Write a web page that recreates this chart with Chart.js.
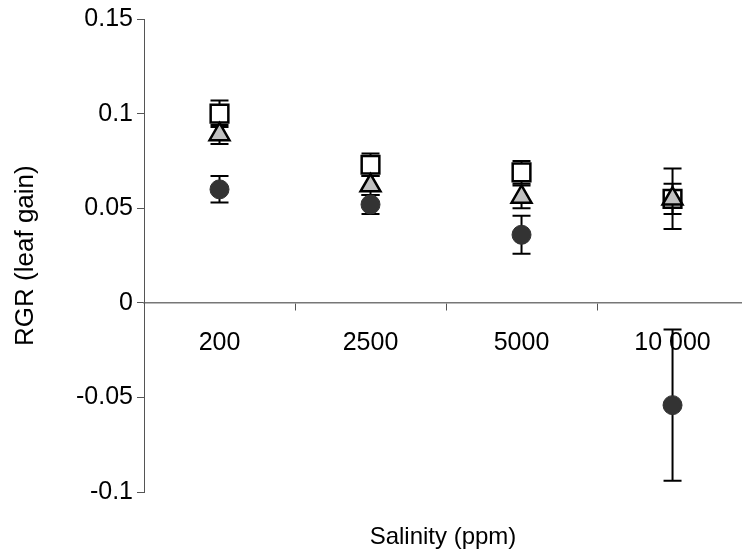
<!DOCTYPE html>
<html>
<head>
<meta charset="utf-8">
<script src="https://cdn.jsdelivr.net/npm/chart.js@4.4.1/dist/chart.umd.min.js"></script>
<style>
  html, body { margin: 0; padding: 0; background: #fff; }
  #wrap { width: 742px; height: 556px; }
</style>
</head>
<body>
<div id="wrap"><canvas id="chart" width="742" height="556"></canvas></div>
<script>
// salinity levels (x categories)
const categories = ['200', '2500', '5000', '10 000'];

// open squares
const squareMean = [0.100, 0.073, 0.069, 0.055];
const squareErr = [0.007, 0.006, 0.006, 0.016];

// grey triangles
const triangleMean = [0.089, 0.062, 0.056, 0.055];
const triangleErr = [0.005, 0.005, 0.006, 0.008];

// dark circles
const circleMean = [0.060, 0.052, 0.036, -0.054];
const circleErr = [0.007, 0.005, 0.010, 0.040];

// y axis ticks
const yTickValues = [-0.1, -0.05, 0, 0.05, 0.1, 0.15];
const yTickLabels = ['-0.1', '-0.05', '0', '0.05', '0.1', '0.15'];

// x axis: label at each category, tick mark between categories
const xLabelTicks = [1, 2, 3, 4];
const xDividerTicks = [1.5, 2.5, 3.5];

const FONT = "'Liberation Sans', Arial, sans-serif";
Chart.defaults.font.family = FONT;
Chart.defaults.color = '#000';

function toPoints(means) {
  return means.map((v, i) => ({ x: i + 1, y: v }));
}

// error bars drawn just before each dataset's markers
const errorBars = {
  id: 'errorBars',
  beforeDatasetDraw(chart, args) {
    const ds = chart.data.datasets[args.index];
    if (!ds.errors) return;
    const { ctx } = chart;
    const xs = chart.scales.x;
    const ys = chart.scales.y;
    ctx.save();
    ctx.strokeStyle = '#000';
    ctx.lineWidth = 2;
    ds.data.forEach((p, i) => {
      const e = ds.errors[i];
      const px = xs.getPixelForValue(p.x);
      const top = ys.getPixelForValue(p.y + e);
      const bot = ys.getPixelForValue(p.y - e);
      ctx.beginPath();
      ctx.moveTo(px, top);
      ctx.lineTo(px, bot);
      ctx.moveTo(px - 9, top);
      ctx.lineTo(px + 9, top);
      ctx.moveTo(px - 9, bot);
      ctx.lineTo(px + 9, bot);
      ctx.stroke();
    });
    ctx.restore();
  }
};

new Chart(document.getElementById('chart'), {
  type: 'scatter',
  data: {
    datasets: [
      {
        label: 'circle',
        data: toPoints(circleMean),
        errors: circleErr,
        pointStyle: 'circle',
        pointRadius: 9.5,
        backgroundColor: '#333333',
        borderColor: '#333333',
        borderWidth: 1
      },
      {
        label: 'triangle',
        data: toPoints(triangleMean),
        errors: triangleErr,
        pointStyle: 'triangle',
        pointRadius: 11.5,
        backgroundColor: '#c0c0c0',
        borderColor: '#000',
        borderWidth: 2.5
      },
      {
        label: 'square',
        data: toPoints(squareMean),
        errors: squareErr,
        pointStyle: 'rect',
        pointRadius: 12.5,
        backgroundColor: '#fff',
        borderColor: '#000',
        borderWidth: 2.5
      }
    ]
  },
  options: {
    responsive: false,
    animation: false,
    layout: { autoPadding: false, padding: { top: 8, left: 0, right: 0, bottom: 0 } },
    plugins: {
      legend: { display: false },
      tooltip: { enabled: false },
      title: {
        display: true,
        position: 'bottom',
        fullSize: false,
        text: 'Salinity (ppm)',
        color: '#000',
        font: { size: 24, weight: 'normal', family: FONT },
        padding: { top: 31, bottom: 4 }
      }
    },
    scales: {
      x: {
        type: 'linear',
        position: { y: 0 },
        min: 0.5,
        max: 4.46,
        afterFit: (scale) => {
          scale.height = 0;
          scale.paddingLeft = 0;
          scale.paddingRight = 0;
        },
        afterBuildTicks: (scale) => {
          scale.ticks = xLabelTicks.concat(xDividerTicks).sort((a, b) => a - b).map((v) => ({ value: v }));
        },
        ticks: {
          autoSkip: false,
          maxRotation: 0,
          padding: 18,
          font: { size: 25 },
          callback: (value) => (Number.isInteger(value) ? categories[value - 1] : '')
        },
        grid: {
          drawOnChartArea: false,
          drawTicks: true,
          tickLength: 7,
          tickWidth: 1,
          tickColor: (ctx) => (ctx.tick && ctx.tick.value % 1 ? '#555' : 'rgba(0,0,0,0)')
        },
        border: { display: true, color: '#777', width: 1.5 }
      },
      y: {
        min: -0.1,
        max: 0.15,
        afterFit: (scale) => { scale.width = 144; },
        afterBuildTicks: (scale) => {
          scale.ticks = yTickValues.map((v) => ({ value: v }));
        },
        ticks: {
          padding: 4,
          font: { size: 25 },
          callback: (value) => yTickLabels[yTickValues.indexOf(value)]
        },
        grid: {
          drawOnChartArea: false,
          drawTicks: true,
          tickLength: 7,
          tickColor: '#555'
        },
        border: { display: true, color: '#555', width: 1 },
        title: {
          display: true,
          text: 'RGR (leaf gain)',
          font: { size: 26 },
          padding: { top: 10, bottom: 0 }
        }
      }
    }
  },
  plugins: [errorBars]
});
</script>
</body>
</html>
